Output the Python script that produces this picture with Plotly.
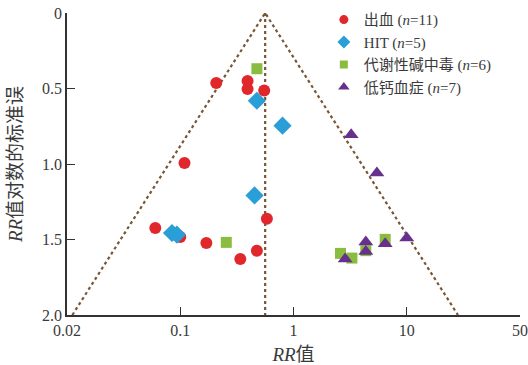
import numpy as np
import plotly.graph_objects as go

# ---- data ----
bleed_rr = [0.208, 0.393, 0.393, 0.551, 0.109, 0.0602, 0.100, 0.170, 0.339, 0.475, 0.582]
bleed_se = [0.464, 0.450, 0.503, 0.513, 0.993, 1.424, 1.483, 1.523, 1.629, 1.574, 1.362]

hit_rr = [0.475, 0.80, 0.453, 0.0845, 0.0935]
hit_se = [0.581, 0.746, 1.208, 1.457, 1.468]

alk_rr = [0.475, 0.255, 2.60, 3.28, 4.35, 6.45]
alk_se = [0.369, 1.519, 1.592, 1.623, 1.574, 1.499]

hypo_rr = [3.23, 5.45, 2.86, 4.35, 4.35, 6.45, 10.0]
hypo_se = [0.806, 1.060, 1.629, 1.517, 1.579, 1.528, 1.490]

pooled_rr = 0.562
se_max = 2.0

x_tickvals = [0.01, 0.1, 1, 10, 100]
x_ticktext = ["0.02", "0.1", "1", "10", "50"]
y_tickvals = [0, 0.5, 1.0, 1.5, 2.0]
y_ticktext = ["0", "0.5", "1.0", "1.5", "2.0"]

names = ["出血 (<i>n</i>=11)", "HIT (<i>n</i>=5)", "代谢性碱中毒 (<i>n</i>=6)", "低钙血症 (<i>n</i>=7)"]

FONT = '"Liberation Serif", "Noto Sans CJK SC", serif'
line_col = "#7a5533"
axis_col = "#333333"
text_col = "#3a3a3a"

series = [
    (bleed_rr, bleed_se, "circle", 12, 9, "#e0272c"),
    (hit_rr, hit_se, "diamond", 14, 10, "#2a9ed6"),
    (alk_rr, alk_se, "square", 11, 8, "#8abd3f"),
    (hypo_rr, hypo_se, "triangle-up", 13, 10, "#66308c"),
]

fig = go.Figure()

# funnel lines (95% pseudo-CI)
z = 1.96 / np.log(10)
left_bot = 10 ** (np.log10(pooled_rr) - z * se_max)
right_bot = 10 ** (np.log10(pooled_rr) + z * se_max)
fig.add_trace(go.Scatter(x=[left_bot, pooled_rr, right_bot], y=[se_max, 0, se_max],
                         mode="lines", line=dict(color=line_col, width=2.2, dash="3px,3px"),
                         showlegend=False, hoverinfo="skip"))
fig.add_trace(go.Scatter(x=[pooled_rr, pooled_rr], y=[0, se_max],
                         mode="lines", line=dict(color=line_col, width=2.2, dash="3px,3px"),
                         showlegend=False, hoverinfo="skip"))

for (xs, ys, sym, sz, lsz, col), nm in zip(series, names):
    fig.add_trace(go.Scatter(x=xs, y=ys, mode="markers", name=nm, showlegend=False,
                             marker=dict(symbol=sym, size=sz, color=col)))
for (xs, ys, sym, sz, lsz, col), nm in zip(series, names):
    fig.add_trace(go.Scatter(x=[None], y=[None], mode="markers", name=nm,
                             marker=dict(symbol=sym, size=lsz, color=col)))

fig.update_layout(
    width=528, height=365,
    margin=dict(l=67, r=8, t=13, b=50, autoexpand=False),
    paper_bgcolor="white", plot_bgcolor="white",
    font=dict(family=FONT, size=16, color=text_col),
    legend=dict(x=0.567, y=1.032, xanchor="left", yanchor="top",
                font=dict(family=FONT, size=15, color=text_col),
                bgcolor="rgba(0,0,0,0)", itemwidth=30, itemsizing="trace"),
    xaxis=dict(type="log", range=[-2, 2], tickvals=x_tickvals, ticktext=x_ticktext,
               showline=True, linecolor=axis_col, linewidth=1.5,
               ticks="inside", ticklen=8, tickcolor=axis_col,
               showgrid=False, zeroline=False, automargin=False,
               title=dict(text="<i>RR</i>值", font=dict(family=FONT, size=19), standoff=10)),
    yaxis=dict(range=[2, 0], tickvals=y_tickvals, ticktext=y_ticktext,
               showline=True, linecolor=axis_col, linewidth=1.5,
               ticks="inside", ticklen=8, tickcolor=axis_col,
               showgrid=False, zeroline=False, automargin=False,
               title=dict(text="<i>RR</i>值对数的标准误", font=dict(family=FONT, size=19), standoff=14)),
)

fig.write_html("out.html", config={"displayModeBar": False},
               post_script="document.body.style.margin='0';document.body.style.padding='0';")
